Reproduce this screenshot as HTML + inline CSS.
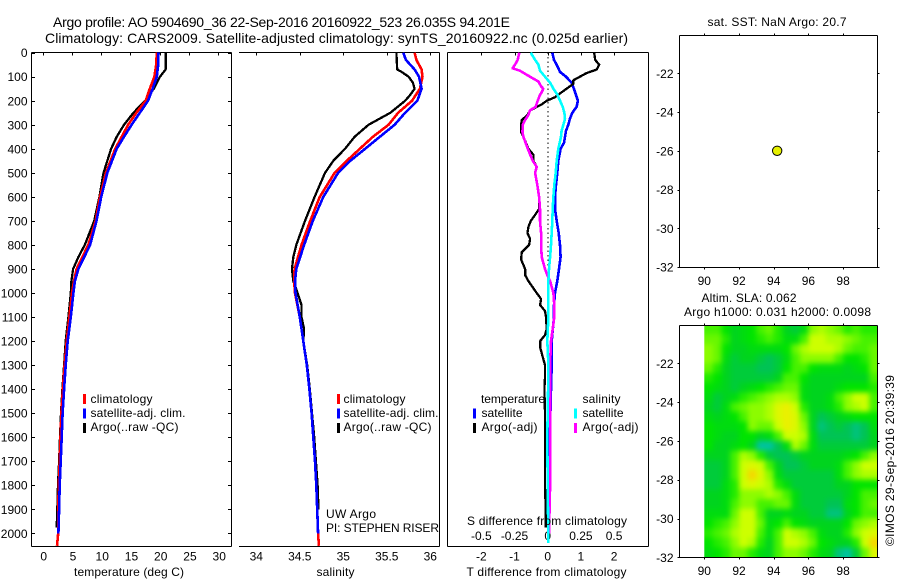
<!DOCTYPE html>
<html lang="en">
<head>
<meta charset="utf-8">
<title>Argo profile</title>
<style>
html,body{margin:0;padding:0;background:#fff;}
svg{display:block;}
text{font-family:"Liberation Sans",sans-serif;font-size:12px;fill:#000;}
</style>
</head>
<body>
<svg id="fig" xmlns="http://www.w3.org/2000/svg" width="900" height="580" viewBox="0 0 900 580">
  <rect x="0" y="0" width="900" height="580" fill="#fff"/>
  <text x="53" y="27" style="font-size:14px" textLength="457">Argo profile: AO 5904690_36 22-Sep-2016 20160922_523 26.035S 94.201E</text>
  <text x="45" y="43" style="font-size:14px" textLength="583">Climatology: CARS2009. Satellite-adjusted climatology: synTS_20160922.nc (0.025d earlier)</text>

  <g id="panelT"></g>
  <g id="panelS"></g>
  <g id="panelD"></g>
  <g id="panelSST"></g>
  <g id="panelSLA"></g>

  <g>
    <rect x="83" y="394" width="3" height="10" fill="#f00"/>
    <rect x="83" y="408.5" width="3" height="10" fill="#00f"/>
    <rect x="83" y="423" width="3" height="10" fill="#000"/>
    <text x="90.5" y="403" textLength="62">climatology</text>
    <text x="90.5" y="417" textLength="95">satellite-adj. clim.</text>
    <text x="90.5" y="431" textLength="88">Argo(..raw -QC)</text>
  </g>
  <g>
    <rect x="337" y="394" width="3" height="10" fill="#f00"/>
    <rect x="337" y="408.5" width="3" height="10" fill="#00f"/>
    <rect x="337" y="423" width="3" height="10" fill="#000"/>
    <text x="343.5" y="403" textLength="62">climatology</text>
    <text x="343.5" y="417" textLength="95">satellite-adj. clim.</text>
    <text x="343.5" y="431" textLength="88">Argo(..raw -QC)</text>
    <text x="326" y="518" textLength="50">UW Argo</text>
    <text x="326" y="532" textLength="113">PI: STEPHEN RISER</text>
  </g>
  <g>
    <text x="481" y="403" textLength="64">temperature</text>
    <rect x="473" y="408.5" width="3" height="10" fill="#00f"/>
    <rect x="473" y="423" width="3" height="10" fill="#000"/>
    <text x="481.5" y="417" textLength="41">satellite</text>
    <text x="481.5" y="431" textLength="56">Argo(-adj)</text>
    <text x="582.5" y="403" textLength="38">salinity</text>
    <rect x="574" y="408.5" width="3" height="10" fill="#0ff"/>
    <rect x="574" y="423" width="3" height="10" fill="#f0f"/>
    <text x="582.5" y="417" textLength="41">satellite</text>
    <text x="582.5" y="431" textLength="56">Argo(-adj)</text>
  </g>

  <text x="129" y="576" text-anchor="middle" textLength="110">temperature (deg C)</text>
  <text x="335.5" y="576" text-anchor="middle" textLength="38">salinity</text>
  <text x="467" y="525" textLength="160">S difference from climatology</text>
  <text x="466.5" y="576" textLength="160">T difference from climatology</text>
  <text x="707.5" y="26" textLength="139">sat. SST: NaN Argo: 20.7</text>
  <text x="701.5" y="302" textLength="95">Altim. SLA: 0.062</text>
  <text x="684" y="316" textLength="187">Argo h1000: 0.031 h2000: 0.0098</text>
  <text transform="translate(894,546) rotate(-90)" x="0" y="0" textLength="171">©IMOS 29-Sep-2016 20:39:39</text>
</svg>

<script>
/* ---------- profile data ---------- */
const depthTicks = [0,100,200,300,400,500,600,700,800,900,1000,1100,1200,1300,1400,1500,1600,1700,1800,1900,2000];

const tempTicks = [0,5,10,15,20,25,30];
const tempDepth = [0,50,100,150,200,250,300,350,400,500,600,700,800,900,950,1000,1100,1200,1300,1400,1500,1600,1700,1800,1900,2000,2052];
const tempClim  = [19.5,19.4,19.1,18.3,17.6,16,14.6,13.5,12.4,10.8,9.8,9.05,7.8,5.8,5.35,5.0,4.55,4.1,3.75,3.45,3.2,3.05,2.9,2.75,2.65,2.65,2.45];
const tempSatDepth = [0,50,100,150,200,250,300,350,400,500,600,700,800,900,950,1000,1100,1200,1300,1400,1500,1600,1700,1800,1900,2000];
const tempSat   = [19.8,19.75,19.5,18.8,18,16.6,15.2,13.9,12.65,11.05,10,9.2,8.1,6.1,5.5,5.25,4.8,4.27,3.93,3.65,3.4,3.25,3.08,2.9,2.8,2.68];
const tempArgoDepth = [0,70,100,150,200,250,300,350,400,500,600,700,800,850,900,950,1000,1100,1200,1300,1400,1500,1600,1700,1800,1900,1975];
const tempArgo  = [21,21,20.05,19,17.5,15.5,13.9,12.65,11.7,10.4,9.7,8.8,7.2,6.1,5.2,4.9,4.8,4.4,3.93,3.65,3.36,3.13,2.96,2.8,2.62,2.5,2.4];

const salTicks = [34,34.5,35,35.5,36];
const salDepth = [0,30,70,100,150,200,250,300,350,400,450,500,600,700,800,900,950,1000,1100,1200,1300,1400,1500,1600,1700,1800,1900,2000,2052];
const salClim  = [35.82,35.84,35.90,35.91,35.88,35.79,35.63,35.52,35.34,35.19,35.04,34.90,34.73,34.62,34.52,34.44,34.435,34.445,34.5,34.54,34.58,34.61,34.636,34.655,34.675,34.69,34.70,34.71,34.72];
const salSatDepth = [0,30,70,100,150,200,250,300,350,400,450,500,600,700,800,900,950,1000,1100,1200,1300,1400,1500,1600,1700,1800,1900,2000];
const salSat   = [35.69,35.72,35.82,35.87,35.90,35.85,35.71,35.59,35.42,35.25,35.08,34.94,34.77,34.65,34.55,34.46,34.445,34.45,34.5,34.54,34.58,34.61,34.636,34.655,34.675,34.69,34.70,34.71];
const salArgoDepth = [0,70,80,100,125,150,175,200,250,300,350,400,450,500,600,700,800,850,900,950,1000,1050,1100,1150,1200,1300,1400,1500,1600,1700,1800,1900];
const salArgo  = [35.61,35.62,35.67,35.75,35.80,35.82,35.77,35.71,35.54,35.29,35.13,35.02,34.885,34.79,34.67,34.56,34.46,34.425,34.41,34.425,34.475,34.52,34.52,34.55,34.54,34.585,34.615,34.64,34.665,34.685,34.705,34.715];

const tDiffTicks = [-2,-1,0,1,2];
const sDiffTicks = [-0.5,-0.25,0,0.25,0.5];
const sDiffLabels = ['-0.5','-0.25','0','0.25','0.5'];

const tSatDepth = [0,30,50,80,100,125,150,175,200,225,250,275,300,325,350,375,400,450,500,550,600,650,700,750,800,850,900,950,1000,1050,1100,1200,1300,1400,1500,1600,1800,2000];
const tSatDiff  = [0.14,0.19,0.27,0.37,0.55,0.72,0.79,0.85,0.91,0.87,0.74,0.67,0.62,0.55,0.52,0.49,0.39,0.32,0.29,0.25,0.22,0.22,0.27,0.33,0.37,0.39,0.34,0.29,0.22,0.19,0.19,0.12,0.12,0.10,0.08,0.05,0.04,0.02];

const tArgoDepth = [0,30,50,70,85,100,115,130,150,165,185,200,215,240,260,280,300,330,350,400,425,450,475,500,550,600,650,675,700,725,750,775,800,830,860,900,925,950,1000,1025,1050,1075,1100,1150,1175,1200,1225,1250,1300,1350,1400,1500,1600,1700,1800,1900,1975];
const tArgoDiff  = [1.40,1.43,1.55,1.48,1.17,0.97,0.77,0.77,0.57,0.42,0.22,-0.03,-0.18,-0.53,-0.61,-0.78,-0.80,-0.80,-0.73,-0.58,-0.43,-0.43,-0.33,-0.38,-0.31,-0.26,-0.26,-0.38,-0.51,-0.58,-0.61,-0.53,-0.56,-0.78,-0.80,-0.68,-0.68,-0.58,-0.33,-0.20,-0.23,-0.08,-0.05,-0.03,-0.08,-0.23,-0.23,-0.18,-0.08,-0.08,-0.10,-0.08,-0.08,-0.08,-0.08,-0.06,-0.06];

const sSatDepth = [0,30,50,75,100,125,150,175,200,225,250,275,300,325,350,400,450,500,550,600,650,700,750,800,850,900,950,1000,1100,1200,1300,1400,1500,1600,1800,2040];
const sSatDiff  = [-0.128,-0.095,-0.07,-0.058,-0.02,0.018,0.043,0.073,0.093,0.113,0.126,0.13,0.118,0.105,0.10,0.08,0.068,0.06,0.05,0.043,0.038,0.035,0.03,0.025,0.018,0.01,0.005,0.005,0.005,-0.003,0.005,0.003,0,-0.003,0,0.005];

const sArgoDepth = [0,30,50,65,75,100,120,140,150,165,175,200,225,240,260,280,300,330,350,400,450,475,500,550,600,650,700,750,800,850,900,925,950,1000,1050,1100,1150,1200,1300,1400,1500,1600,1800,2000];
const sArgoDiff  = [-0.214,-0.226,-0.246,-0.264,-0.209,-0.133,-0.07,-0.05,-0.033,-0.045,-0.058,-0.075,-0.09,-0.133,-0.146,-0.17,-0.188,-0.19,-0.183,-0.15,-0.113,-0.083,-0.095,-0.078,-0.065,-0.058,-0.058,-0.05,-0.05,-0.045,-0.02,-0.003,0.018,0.043,0.05,0.05,0.038,0.025,0.018,0.018,0.018,0.018,0.018,0.01];

/* ---------- map data ---------- */
const lonTicks = [90,92,94,96,98];
const latTicks = [-22,-24,-26,-28,-30,-32];
const floatLon = [94.2];
const floatLat = [-26.0];
const gridLonStart = [90];
const gridLatStart = [-20];
const gridStep = [0.5];
const slaGrid = [
[1,1,0,-1,-0.5,0,1,1.5,0.5,-1,-1.5,-0.5,2,2.5,2,1.5,0.5,1,0.5,0.5],
[1.5,1.5,0.5,-1,-0.5,0,0.5,1,0.5,-0.5,-0.5,1,3,3,2.5,2.5,2,1.5,1,1],
[2,1.5,0,-1,-1,-0.5,-0.5,-0.5,-0.5,0,1.5,2.5,3,3,3,2.5,1.5,1,1,1.5],
[2,1.5,-0.5,-1.5,-1,-1,-1.5,-2,-1.5,-0.5,1,2,2,2,2,1,0,0,0.5,1.5],
[1.5,0.5,-1,-1.5,-1.5,-1.5,-2,-2,-1.5,0,1,1,0,-0.5,-0.5,-0.5,-1,-0.5,0,1.5],
[0.5,0,-1,-1.5,-1.5,-1.5,-1.5,-1.5,-1,1,1,0,-1,-1,-1,-1,-1,-1,-1,1],
[0,-0.5,-1,-1.5,-1,-0.5,0,0.5,1,1.5,1.5,-0.5,-1,-1,-1,-0.5,0,0,0,0.5],
[-0.5,-1.5,-1,-0.5,0.5,1,1.5,2,2.5,2.5,2,-0.5,-1,-1,-0.5,1,2,3,3,1],
[-1,-1.5,-0.5,1,1.5,2,2,2.5,3.5,4,3,0.5,-1,-1,-0.5,0.5,2,2.5,3,1],
[-0.5,-1,-0.5,0,1,2,2,2.5,3.5,4,3.5,1.5,-1,-2,-1.5,-1,-0.5,0,0,0],
[0,-0.5,-0.5,-0.5,0,2,1.5,1.5,3,4,3.5,2,-1,-2.5,-2,-1.5,-2,-2.5,-2,-0.5],
[0,-0.5,-1,-1,0,0,-1,-0.5,1,3,3,2.5,-0.5,-2,-2,-2,-2,-2.5,-2,-1],
[0,-1,-1,-0.5,0,-1,-3,-3,-2,-0.5,2.5,1.5,-0.5,-1.5,-1.5,-1.5,-1.5,-1.5,-1.5,-1],
[-1,-1,-1,1,2.5,2,0.5,-1.5,-2,-2,-1.5,-1,-1,-1,-1,-1,-0.5,0,1,2],
[-1.5,-1.5,-1,1,3,3.5,3,1,-1,-2,-2,-1.5,-1,-1,-1,-0.5,1,2,3,3],
[-1.5,-1.5,-1,1,3,4.5,3.5,2,-0.5,-1.5,-1.5,-1.5,-1.5,-1.5,-1.5,-0.5,1,2,2.5,2.5],
[-1.5,-1.5,-0.5,0.5,3,3.5,3,2.5,0.5,-0.5,-1.5,-1.5,-1.5,-1.5,-1.5,-1,-1,0,0,0],
[-1,-1,-0.5,0.5,2,2,2,2.5,2,1,-0.5,-1.5,-1.5,-1.5,-1.5,-1.5,-1,0,1,1],
[-1,-1,-0.5,1,2,2,1,1,1.5,1.5,-0.5,-1.5,-1.5,-1.5,-2,-2,-0.5,0,1,1.5],
[-0.5,-0.5,-0.5,1.5,3,3,1,-1,-1,-0.5,-1,-1,-1.5,-1.5,-2.5,-2.5,-1,0,1,1],
[0,0.5,1,2,3,3,1.5,-0.5,0,1,0,-0.5,-1,-1,-1,-1,0,1.5,2,2.5],
[0.5,1,1.5,2.5,3,3,1,-0.5,1,3,2.5,2,1,-0.5,-1,-1,0.5,2,3,3.5],
[0,0.5,1,2,3,2.5,0.5,-1,1,3,3,2.5,1.5,0,-0.5,-1,-1,0.5,3,4.5],
[-0.5,0,0.5,1.5,1.5,0.5,-0.5,-1,1,2,2,1.5,0.5,-0.5,-1,-2.5,-3,-1.5,1.5,3.5]
];
const colorLevels = [-3,-2,-1,0,1,2,3,4,5];
const colorReds   = [0,0,0,0,70,140,205,235,255];
const colorGreens = [195,195,212,228,242,252,255,240,190];
const colorBlues  = [160,85,30,0,0,0,0,0,0];

/* ---------- helpers ---------- */
const NS = 'http://www.w3.org/2000/svg';
function mk(parent, tag, props){
  const el = document.createElementNS(NS, tag);
  for (const k in props) el.setAttribute(k, props[k]);
  parent.appendChild(el);
  return el;
}
const yDepth = d => 52.7 + 0.2403 * d;
const xTemp  = t => 42.7 + 5.85 * t;
const xSal   = s => 256.3 + 87 * (s - 34);
const xTDiff = t => 547.7 + 33.2 * t;
const xSDiff = s => 547.7 + 132.8 * s;
const xLon   = l => 704.3 + 17.35 * (l - 90);
const yLatA  = l => 73.3 + 19.37 * (-22 - l);
const yLatB  = l => 363.3 + 19.4 * (-22 - l);

function profile(parent, name, xs, ys, xf, color, w){
  const pts = ys.map((d, i) => xf(xs[i]).toFixed(1) + ',' + yDepth(d).toFixed(1)).join(' ');
  const el = mk(parent, 'polyline', {points: pts, fill: 'none', stroke: color, 'stroke-width': w, 'stroke-linejoin': 'round', 'shape-rendering': 'crispEdges'});
  
  
  return el;
}
function hLine(parent, x1, x2, y){
  return mk(parent, 'line', {x1: x1, x2: x2, y1: y, y2: y, stroke: '#000', 'stroke-width': 1, 'shape-rendering': 'crispEdges'});
}
function vLine(parent, x, y1, y2){
  return mk(parent, 'line', {x1: x, x2: x, y1: y1, y2: y2, stroke: '#000', 'stroke-width': 1, 'shape-rendering': 'crispEdges'});
}
function label(parent, x, y, str, anchor){
  const el = mk(parent, 'text', {x: x, y: y, 'text-anchor': anchor});
  el.textContent = str;
  return el;
}
function axisLine(el){
  
  
}
function tickMark(el){
  
  
}
function tickLabel(el){
  
  
}

const TOP = 52.5, BOT = 546.5;
const COLOR_W = 2.6, BLACK_W = 2.3;
const pT = document.getElementById('panelT');
const pS = document.getElementById('panelS');
const pD = document.getElementById('panelD');
const pA = document.getElementById('panelSST');
const pB = document.getElementById('panelSLA');

/* temperature panel */
axisLine(hLine(pT, 31.5, 231.5, TOP));
axisLine(hLine(pT, 31.5, 231.5, BOT));
axisLine(vLine(pT, 31.5, TOP, BOT));
axisLine(vLine(pT, 231.5, TOP, BOT));
depthTicks.forEach(d => {
  const y = Math.round(yDepth(d)) + 0.5;
  tickMark(hLine(pT, 31.5, 35, y));
  tickMark(hLine(pT, 228, 231.5, y));
  tickLabel(label(pT, 27.5, yDepth(d) + 4.5, String(d), 'end'));
});
tempTicks.forEach(t => {
  const x = Math.round(xTemp(t)) + 0.5;
  tickMark(vLine(pT, x, TOP, TOP + 3));
  tickLabel(label(pT, xTemp(t) + 1, 560.5, String(t), 'middle'));
});
profile(pT, 'temperature-argo-line', tempArgo, tempArgoDepth, xTemp, '#000', BLACK_W);
profile(pT, 'temperature-climatology-line', tempClim, tempDepth, xTemp, '#f00', COLOR_W);
profile(pT, 'temperature-satellite-line', tempSat, tempSatDepth, xTemp, '#00f', COLOR_W);

/* salinity panel */
axisLine(hLine(pS, 239, 439.5, TOP));
axisLine(hLine(pS, 239, 439.5, BOT));
axisLine(vLine(pS, 439.5, TOP, BOT));
salTicks.forEach(s => {
  const x = Math.round(xSal(s)) + 0.5;
  tickMark(vLine(pS, x, TOP, TOP + 3));
  tickLabel(label(pS, xSal(s), 560.5, String(s), 'middle'));
});
profile(pS, 'salinity-argo-line', salArgo, salArgoDepth, xSal, '#000', BLACK_W);
profile(pS, 'salinity-climatology-line', salClim, salDepth, xSal, '#f00', COLOR_W);
profile(pS, 'salinity-satellite-line', salSat, salSatDepth, xSal, '#00f', COLOR_W);

/* difference panel */
axisLine(hLine(pD, 447.5, 648.5, TOP));
axisLine(hLine(pD, 447.5, 648.5, BOT));
axisLine(vLine(pD, 447.5, TOP, BOT));
axisLine(vLine(pD, 648.5, TOP, BOT));
tDiffTicks.forEach(t => {
  const x = Math.round(xTDiff(t)) + 0.5;
  tickMark(vLine(pD, x, TOP, TOP + 3));
  tickLabel(label(pD, xTDiff(t), 560.5, String(t), 'middle'));
});
sDiffTicks.forEach((s, i) => {
  tickLabel(label(pD, xSDiff(s), 540, sDiffLabels[i], 'middle'));
});
const zero = mk(pD, 'line', {x1: 548, x2: 548, y1: TOP, y2: 430, stroke: '#000', 'stroke-width': 1, 'stroke-dasharray': '1.5 3', 'shape-rendering': 'crispEdges'});


profile(pD, 'temperature-satellite-difference-line', tSatDiff, tSatDepth, xTDiff, '#00f', COLOR_W);
profile(pD, 'temperature-argo-difference-line', tArgoDiff, tArgoDepth, xTDiff, '#000', BLACK_W);
profile(pD, 'salinity-argo-difference-line', sArgoDiff, sArgoDepth, xSDiff, '#f0f', COLOR_W);
profile(pD, 'salinity-satellite-difference-line', sSatDiff, sSatDepth, xSDiff, '#0ff', COLOR_W);

/* map frames */
function mapFrame(parent, top, bot, yLat){
  axisLine(hLine(parent, 679.5, 877.5, top));
  axisLine(hLine(parent, 679.5, 877.5, bot));
  axisLine(vLine(parent, 679.5, top, bot));
  axisLine(vLine(parent, 877.5, top, bot));
  lonTicks.forEach(l => {
    const x = Math.round(xLon(l)) + 0.5;
    tickMark(vLine(parent, x, top - 2, top));
    tickMark(vLine(parent, x, bot, bot + 2));
    tickLabel(label(parent, xLon(l), bot + 17.5, String(l), 'middle'));
  });
  latTicks.forEach(l => {
    const y = Math.round(yLat(l)) + 0.5;
    tickMark(hLine(parent, 677.5, 679.5, y));
    tickMark(hLine(parent, 877.5, 879.5, y));
    tickLabel(label(parent, 673.5, yLat(l) + 4.5, String(l), 'end'));
  });
}

/* SLA heat map */
function slaColor(v){
  let i = 0;
  while (i < colorLevels.length - 2 && v > colorLevels[i + 1]) i++;
  const f = Math.max(0, Math.min(1, (v - colorLevels[i]) / (colorLevels[i + 1] - colorLevels[i])));
  const c = a => Math.round(a[i] + (a[i + 1] - a[i]) * f);
  return 'rgb(' + c(colorReds) + ',' + c(colorGreens) + ',' + c(colorBlues) + ')';
}
const defs = mk(pB, 'defs', {});
const clip = mk(defs, 'clipPath', {id: 'mapClip'});
mk(clip, 'rect', {x: xLon(90), y: 325.5, width: 877.5 - xLon(90), height: 232});
const blur = mk(defs, 'filter', {id: 'mapBlur', filterUnits: 'userSpaceOnUse', x: 660, y: 290, width: 240, height: 300, 'color-interpolation-filters': 'sRGB'});
mk(blur, 'feGaussianBlur', {stdDeviation: '2.6 2.6'});
const clipGroup = mk(pB, 'g', {'clip-path': 'url(#mapClip)'});


const cellGroup = mk(clipGroup, 'g', {filter: 'url(#mapBlur)'});
slaGrid.forEach((row, r) => {
  row.forEach((v, c) => {
    const lon = gridLonStart[0] + c * gridStep[0];
    const lat = gridLatStart[0] - r * gridStep[0];
    let x0 = xLon(lon), x1 = xLon(lon + gridStep[0]);
    let y0 = yLatB(lat), y1 = yLatB(lat - gridStep[0]);
    if (c === 0) x0 -= 20;
    if (c === row.length - 1) x1 += 20;
    if (r === 0) y0 -= 20;
    if (r === slaGrid.length - 1) y1 += 20;
    const cell = mk(cellGroup, 'rect', {x: x0.toFixed(2), y: y0.toFixed(2), width: (x1 - x0 + 0.5).toFixed(2), height: (y1 - y0 + 0.5).toFixed(2), fill: slaColor(v)});
    
    
  });
});

mapFrame(pA, 35.5, 267.5, yLatA);
mapFrame(pB, 325.5, 557.5, yLatB);

const dot = mk(pA, 'circle', {cx: xLon(floatLon[0]), cy: yLatA(floatLat[0]), r: 4.7, fill: '#e6f000', stroke: '#000', 'stroke-width': 1});


</script>
</body>
</html>
